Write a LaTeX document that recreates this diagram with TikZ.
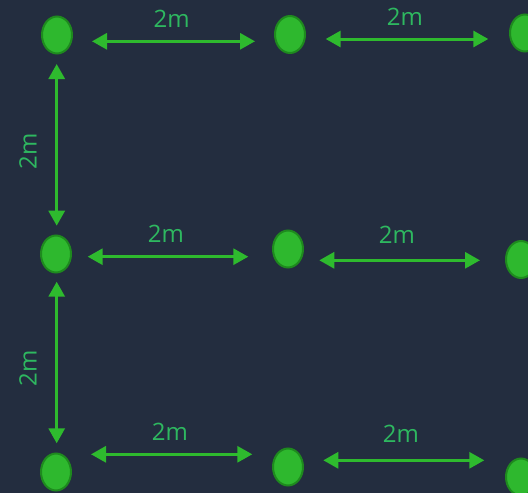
\documentclass[tikz,border=0pt]{standalone}
\usepackage{fontspec}
\setmainfont{Open Sans}
\usetikzlibrary{arrows.meta,shapes.geometric}
\definecolor{bg}{RGB}{35,45,63}
\definecolor{postfill}{RGB}{46,184,46}
\definecolor{postedge}{RGB}{30,138,30}
\definecolor{dimline}{RGB}{46,186,46}
\definecolor{dimtext}{RGB}{46,184,96}
\tikzset{
  post/.style={ellipse, draw=postedge, line width=2pt, fill=postfill,
    minimum width=30pt, minimum height=37pt, inner sep=0pt},
  dimarrow/.style={draw=dimline, line width=3pt,
    {Triangle[length=15pt,width=16pt]}-{Triangle[length=15pt,width=16pt]}},
  dimlabel/.style={text=dimtext, font=\fontsize{24}{28}\selectfont, inner sep=0pt}
}
\begin{document}
\begin{tikzpicture}[x=1pt,y=-1pt]
  \fill[bg] (0,0) rectangle (528,493);
  \useasboundingbox (0,0) rectangle (528,493);

  % posts
  \node[post] (p11) at (57,35) {};
  \node[post] (p12) at (290,34.5) {};
  \node[post] (p13) at (525,33) {};
  \node[post] (p21) at (56,254) {};
  \node[post] (p22) at (288,249) {};
  \node[post] (p23) at (521,259.5) {};
  \node[post] (p31) at (56,472) {};
  \node[post] (p32) at (288,467) {};
  \node[post] (p33) at (521,477) {};

  % ends of the dimension arrows
  \coordinate (a1s) at (92,41.3);   \coordinate (a1e) at (255,41.3);
  \coordinate (a2s) at (325.7,39);  \coordinate (a2e) at (488.3,39);
  \coordinate (b1s) at (87.7,256.7); \coordinate (b1e) at (248.3,256.7);
  \coordinate (b2s) at (319.3,260.3); \coordinate (b2e) at (480,260.3);
  \coordinate (c1s) at (91,454.3);  \coordinate (c1e) at (252.3,454.3);
  \coordinate (c2s) at (323.3,460.3); \coordinate (c2e) at (484.3,460.3);
  \coordinate (v1s) at (56.7,64);   \coordinate (v1e) at (56.7,225.7);
  \coordinate (v2s) at (56.7,281.7); \coordinate (v2e) at (56.7,443.3);

  % horizontal dimensions
  \draw[dimarrow] (a1s) -- (a1e);
  \draw[dimarrow] (a2s) -- (a2e);
  \draw[dimarrow] (b1s) -- (b1e);
  \draw[dimarrow] (b2s) -- (b2e);
  \draw[dimarrow] (c1s) -- (c1e);
  \draw[dimarrow] (c2s) -- (c2e);
  % vertical dimensions
  \draw[dimarrow] (v1s) -- (v1e);
  \draw[dimarrow] (v2s) -- (v2e);

  % labels
  \node[dimlabel] (la1) at (171.7,19) {2m};
  \node[dimlabel] (la2) at (405,17) {2m};
  \node[dimlabel] (lb1) at (166,234) {2m};
  \node[dimlabel] (lb2) at (397,235) {2m};
  \node[dimlabel] (lc1) at (170,432) {2m};
  \node[dimlabel] (lc2) at (401,434) {2m};
  \node[dimlabel, rotate=90] (lv1) at (28,151) {2m};
  \node[dimlabel, rotate=90] (lv2) at (28,368) {2m};
\end{tikzpicture}
\end{document}
